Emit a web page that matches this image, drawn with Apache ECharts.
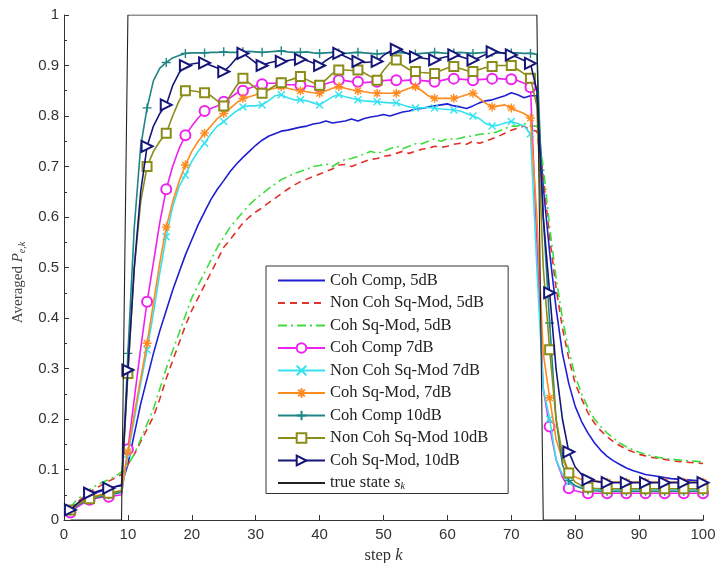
<!DOCTYPE html>
<html><head><meta charset="utf-8">
<script src="https://cdn.jsdelivr.net/npm/echarts/dist/echarts.min.js"></script>
<style>html,body{margin:0;padding:0;background:#fff}#c{width:717px;height:563px}</style>
</head><body><div id="c"></div><script>
// step k (x values)
const steps = Array.from({length: 100}, (_, i) => i + 1);

const seriesNames = ['Coh Comp, 5dB','Non Coh Sq-Mod, 5dB','Coh Sq-Mod, 5dB','Coh Comp 7dB','Non Coh Sq-Mod 7dB','Coh Sq-Mod, 7dB','Coh Comp 10dB','Non Coh Sq-Mod 10dB','Coh Sq-Mod, 10dB','true state sk'];

const cohComp5 = [0.02,0.03,0.04,0.048,0.054,0.058,0.062,0.066,0.07,0.11,
 0.17,0.23,0.28,0.33,0.375,0.415,0.455,0.49,0.525,0.555,
 0.585,0.61,0.635,0.655,0.672,0.69,0.705,0.718,0.73,0.742,
 0.752,0.76,0.765,0.77,0.772,0.775,0.778,0.78,0.784,0.786,
 0.79,0.786,0.788,0.79,0.794,0.79,0.795,0.798,0.8,0.803,
 0.8,0.804,0.808,0.81,0.814,0.815,0.818,0.82,0.822,0.824,
 0.82,0.818,0.815,0.82,0.826,0.83,0.832,0.836,0.84,0.846,
 0.842,0.836,0.84,0.84,0.66,0.53,0.42,0.33,0.27,0.225,
 0.195,0.172,0.153,0.138,0.126,0.117,0.11,0.103,0.098,0.094,
 0.09,0.088,0.086,0.084,0.082,0.081,0.08,0.079,0.078,0.078];

const nonCohSq5 = [0.02,0.035,0.045,0.055,0.063,0.07,0.077,0.083,0.09,0.11,
 0.13,0.155,0.18,0.205,0.24,0.28,0.315,0.35,0.385,0.415,
 0.44,0.465,0.49,0.515,0.54,0.555,0.572,0.588,0.6,0.61,
 0.618,0.628,0.637,0.646,0.655,0.663,0.67,0.675,0.68,0.685,
 0.69,0.695,0.703,0.704,0.7,0.705,0.71,0.714,0.716,0.72,
 0.722,0.726,0.73,0.726,0.73,0.734,0.736,0.74,0.738,0.74,
 0.744,0.746,0.744,0.75,0.746,0.75,0.755,0.76,0.766,0.772,
 0.776,0.78,0.772,0.77,0.68,0.56,0.46,0.38,0.32,0.27,
 0.24,0.212,0.192,0.177,0.165,0.155,0.147,0.14,0.135,0.13,
 0.127,0.124,0.122,0.12,0.118,0.116,0.115,0.114,0.113,0.112];

const cohSq5 = [0.025,0.04,0.05,0.06,0.068,0.075,0.08,0.086,0.095,0.11,
 0.13,0.16,0.19,0.22,0.26,0.3,0.335,0.37,0.405,0.44,
 0.465,0.49,0.515,0.54,0.56,0.58,0.595,0.61,0.624,0.636,
 0.646,0.656,0.665,0.674,0.68,0.686,0.69,0.695,0.7,0.702,
 0.705,0.7,0.708,0.714,0.716,0.72,0.725,0.73,0.726,0.73,
 0.735,0.74,0.735,0.74,0.745,0.745,0.75,0.755,0.75,0.755,
 0.754,0.756,0.76,0.76,0.764,0.765,0.766,0.77,0.775,0.78,
 0.78,0.785,0.78,0.78,0.7,0.58,0.48,0.4,0.335,0.285,
 0.25,0.222,0.2,0.185,0.172,0.162,0.152,0.145,0.139,0.134,
 0.13,0.127,0.124,0.122,0.12,0.119,0.118,0.117,0.116,0.115];

const cohComp7 = [0.015,0.025,0.033,0.04,0.043,0.045,0.046,0.048,0.05,0.14,
 0.24,0.34,0.432,0.51,0.59,0.655,0.7,0.735,0.762,0.78,
 0.796,0.81,0.815,0.82,0.828,0.836,0.845,0.85,0.855,0.86,
 0.863,0.865,0.865,0.865,0.862,0.862,0.861,0.86,0.858,0.858,
 0.864,0.868,0.871,0.87,0.868,0.868,0.866,0.867,0.868,0.87,
 0.871,0.871,0.87,0.871,0.871,0.87,0.869,0.868,0.87,0.873,
 0.874,0.873,0.872,0.871,0.872,0.873,0.874,0.874,0.873,0.873,
 0.87,0.865,0.857,0.55,0.26,0.185,0.12,0.085,0.063,0.058,
 0.055,0.053,0.053,0.053,0.053,0.053,0.053,0.053,0.053,0.053,
 0.053,0.053,0.053,0.053,0.053,0.053,0.053,0.053,0.053,0.053];

const nonCohSq7 = [0.02,0.03,0.037,0.043,0.047,0.05,0.052,0.054,0.056,0.13,
 0.2,0.27,0.337,0.41,0.49,0.561,0.62,0.66,0.683,0.71,
 0.73,0.746,0.765,0.78,0.789,0.8,0.81,0.818,0.82,0.82,
 0.822,0.83,0.84,0.842,0.836,0.832,0.832,0.83,0.826,0.822,
 0.83,0.838,0.842,0.838,0.835,0.832,0.83,0.829,0.828,0.827,
 0.826,0.826,0.822,0.818,0.816,0.816,0.817,0.816,0.814,0.813,
 0.812,0.81,0.805,0.8,0.795,0.785,0.78,0.782,0.786,0.789,
 0.785,0.78,0.765,0.5,0.26,0.2,0.12,0.09,0.075,0.068,
 0.064,0.062,0.061,0.06,0.06,0.06,0.06,0.06,0.06,0.06,
 0.06,0.06,0.06,0.06,0.06,0.06,0.06,0.06,0.06,0.06];

const cohSq7 = [0.02,0.03,0.038,0.044,0.048,0.051,0.053,0.055,0.058,0.135,
 0.21,0.28,0.35,0.43,0.51,0.58,0.63,0.67,0.703,0.73,
 0.75,0.766,0.78,0.795,0.805,0.815,0.826,0.835,0.838,0.842,
 0.848,0.852,0.855,0.858,0.855,0.852,0.85,0.848,0.846,0.845,
 0.85,0.855,0.858,0.855,0.852,0.85,0.848,0.846,0.845,0.845,
 0.845,0.845,0.85,0.855,0.858,0.85,0.84,0.835,0.835,0.835,
 0.835,0.838,0.842,0.845,0.835,0.825,0.818,0.82,0.822,0.816,
 0.81,0.805,0.796,0.6,0.33,0.242,0.16,0.12,0.095,0.085,
 0.08,0.078,0.077,0.076,0.075,0.075,0.075,0.075,0.075,0.075,
 0.075,0.075,0.075,0.075,0.075,0.075,0.075,0.075,0.075,0.075];

const cohComp10 = [0.018,0.028,0.035,0.04,0.044,0.047,0.05,0.052,0.055,0.33,
 0.58,0.74,0.816,0.87,0.895,0.906,0.915,0.92,0.924,0.925,
 0.925,0.925,0.926,0.926,0.927,0.926,0.926,0.927,0.928,0.927,
 0.926,0.927,0.928,0.929,0.927,0.926,0.926,0.927,0.925,0.924,
 0.925,0.926,0.925,0.924,0.925,0.926,0.925,0.924,0.923,0.924,
 0.925,0.926,0.925,0.924,0.923,0.924,0.925,0.926,0.925,0.924,
 0.925,0.926,0.925,0.924,0.925,0.926,0.926,0.925,0.925,0.925,
 0.925,0.924,0.924,0.922,0.6,0.39,0.2,0.11,0.078,0.068,
 0.063,0.06,0.058,0.057,0.057,0.057,0.057,0.057,0.057,0.057,
 0.057,0.057,0.057,0.057,0.057,0.057,0.057,0.057,0.057,0.057];

const nonCohSq10 = [0.02,0.03,0.036,0.042,0.046,0.05,0.053,0.056,0.058,0.29,
 0.5,0.63,0.7,0.73,0.75,0.766,0.8,0.83,0.85,0.85,
 0.848,0.846,0.84,0.83,0.82,0.84,0.86,0.875,0.865,0.855,
 0.845,0.852,0.86,0.866,0.87,0.874,0.878,0.872,0.866,0.861,
 0.872,0.884,0.891,0.891,0.89,0.891,0.885,0.878,0.871,0.89,
 0.905,0.911,0.9,0.892,0.888,0.886,0.885,0.884,0.89,0.895,
 0.898,0.894,0.89,0.888,0.892,0.896,0.898,0.9,0.9,0.9,
 0.892,0.884,0.875,0.82,0.5,0.337,0.2,0.13,0.093,0.075,
 0.068,0.065,0.063,0.062,0.062,0.062,0.062,0.062,0.062,0.062,
 0.062,0.062,0.062,0.062,0.062,0.062,0.062,0.062,0.062,0.062];

const cohSq10 = [0.02,0.032,0.042,0.053,0.056,0.06,0.063,0.066,0.068,0.297,
 0.5,0.65,0.74,0.78,0.805,0.822,0.86,0.885,0.9,0.903,
 0.905,0.905,0.9,0.895,0.888,0.9,0.915,0.924,0.915,0.905,
 0.9,0.905,0.908,0.908,0.91,0.912,0.912,0.91,0.905,0.9,
 0.91,0.918,0.924,0.918,0.912,0.908,0.906,0.907,0.908,0.92,
 0.928,0.932,0.928,0.922,0.917,0.915,0.913,0.911,0.915,0.918,
 0.921,0.918,0.914,0.911,0.916,0.922,0.927,0.926,0.924,0.921,
 0.916,0.91,0.904,0.85,0.6,0.45,0.3,0.2,0.135,0.105,
 0.09,0.08,0.077,0.075,0.074,0.074,0.074,0.074,0.074,0.074,
 0.074,0.074,0.074,0.074,0.074,0.074,0.074,0.074,0.074,0.074];

const trueState = [0,0,0,0,0,0,0,0,0,1,
 1,1,1,1,1,1,1,1,1,1,
 1,1,1,1,1,1,1,1,1,1,
 1,1,1,1,1,1,1,1,1,1,
 1,1,1,1,1,1,1,1,1,1,
 1,1,1,1,1,1,1,1,1,1,
 1,1,1,1,1,1,1,1,1,1,
 1,1,1,1,0,0,0,0,0,0,
 0,0,0,0,0,0,0,0,0,0,
 0,0,0,0,0,0,0,0,0,0];

const xTicks = [0,10,20,30,40,50,60,70,80,90,100];
const yTicks = [0,0.1,0.2,0.3,0.4,0.5,0.6,0.7,0.8,0.9,1];

const allValues = [cohComp5, nonCohSq5, cohSq5, cohComp7, nonCohSq7, cohSq7, cohComp10, nonCohSq10, cohSq10, trueState];

const styles = [
  {color:'#1f1fd2', type:'solid', symbol:'none'},
  {color:'#e2312b', type:[7,5], symbol:'none'},
  {color:'#3fdc3f', type:[9,4,2,4], symbol:'none'},
  {color:'#ee22ee', type:'solid', symbol:'emptyCircle', size:10},
  {color:'#35e2f0', type:'solid', symbol:'path://M0,0L10,10M0,10L10,0', size:7},
  {color:'#ff8a1e', type:'solid', symbol:'path://M5,0L5,10M0,5L10,5M1.5,1.5L8.5,8.5M1.5,8.5L8.5,1.5', size:9},
  {color:'#218585', type:'solid', symbol:'path://M5,0L5,10M0,5L10,5', size:9},
  {color:'#8c8c18', type:'solid', symbol:'emptyRect', size:9},
  {color:'#15157a', type:'solid', symbol:'emptyTriangle', size:11, rotate:-90},
  {color:'#555555', type:'solid', symbol:'none', width:1.1}
];

const serif = '"Liberation Serif", "DejaVu Serif", serif';
const sans = '"Liberation Sans", Arial, sans-serif';
const FS = 16.5;

const series = allValues.map((vals, i) => {
  const st = styles[i];
  const s = {
    name: seriesNames[i],
    type: 'line',
    data: vals.map((v, j) => [steps[j], v]),
    animation: false,
    color: st.color,
    lineStyle: {color: st.color, width: st.width || 1.6, type: st.type},
    symbol: st.symbol,
    z: i === 9 ? 5 : 2 + i * 0.1,
    silent: true
  };
  if (st.symbol !== 'none') {
    s.showSymbol = true;
    s.showAllSymbol = true;
    const sz = st.size;
    s.symbolSize = (v, p) => (p.dataIndex % 3 === 0 ? sz : 0);
    s.symbolRotate = st.rotate || 0;
    s.itemStyle = {color: st.color, borderColor: st.color, borderWidth: 1.4};
  } else {
    s.showSymbol = false;
  }
  if (i === 9) s.lineStyle.color = '#222';
  return s;
});

const legendData = seriesNames.map((n, i) => styles[i].symbol === 'none'
  ? {name: n, itemStyle: {opacity: 0}}
  : {name: n});

const chart = echarts.init(document.getElementById('c'), null, {renderer: 'canvas'});
chart.setOption({
  backgroundColor: '#fff',
  animation: false,
  grid: {left: 64, right: 14, top: 15, bottom: 43, containLabel: false, outerBoundsMode: 'none'},
  legend: {
    left: 266, top: 266, orient: 'vertical',
    itemWidth: 47, itemHeight: 12, itemGap: 5.5,
    padding: [6, 20, 2, 11],
    backgroundColor: '#fff', borderColor: '#333', borderWidth: 1, borderRadius: 0,
    selectedMode: false,
    textStyle: {
      fontFamily: serif, fontSize: FS, color: '#222',
      rich: {
        i: {fontFamily: serif, fontStyle: 'italic', fontSize: FS, color: '#222'},
        sub: {fontFamily: serif, fontStyle: 'italic', fontSize: 10, color: '#222', padding: [6, 0, 0, 0]}
      }
    },
    formatter: name => name === 'true state sk' ? 'true state {i|s}{sub|k}' : name,
    data: legendData
  },
  xAxis: {
    type: 'value', min: xTicks[0], max: xTicks[xTicks.length - 1], interval: 10,
    name: 'step {i|k}', nameLocation: 'middle', nameGap: 24,
    nameTextStyle: {fontFamily: serif, fontSize: FS, color: '#333',
      rich: {i: {fontFamily: serif, fontStyle: 'italic', fontSize: FS, color: '#333'}}},
    axisLine: {show: true, lineStyle: {color: '#333', width: 1}},
    axisTick: {show: true, inside: true, length: 5, lineStyle: {color: '#333'}},
    axisLabel: {fontFamily: sans, fontSize: 15, color: '#333', margin: 7},
    splitLine: {show: false}
  },
  yAxis: {
    type: 'value', min: yTicks[0], max: yTicks[yTicks.length - 1], interval: 0.1,
    name: 'Averaged {i|P}{sub|e,k}', nameLocation: 'middle', nameGap: 37, nameRotate: 90,
    nameTextStyle: {fontFamily: serif, fontSize: 15, color: '#444', padding: [0, 30, 0, 0],
      rich: {
        i: {fontFamily: serif, fontStyle: 'italic', fontSize: 15, color: '#444'},
        sub: {fontFamily: serif, fontStyle: 'italic', fontSize: 10, color: '#444', padding: [7, 0, 0, 0]}
      }},
    axisLine: {show: true, lineStyle: {color: '#333', width: 1}},
    axisTick: {show: true, inside: true, length: 5, lineStyle: {color: '#333'}},
    minorTick: {show: true, splitNumber: 2, length: 3, lineStyle: {color: '#333'}},
    axisLabel: {fontFamily: sans, fontSize: 15, color: '#333', margin: 5},
    splitLine: {show: false}
  },
  series: series
});
</script></body></html>
